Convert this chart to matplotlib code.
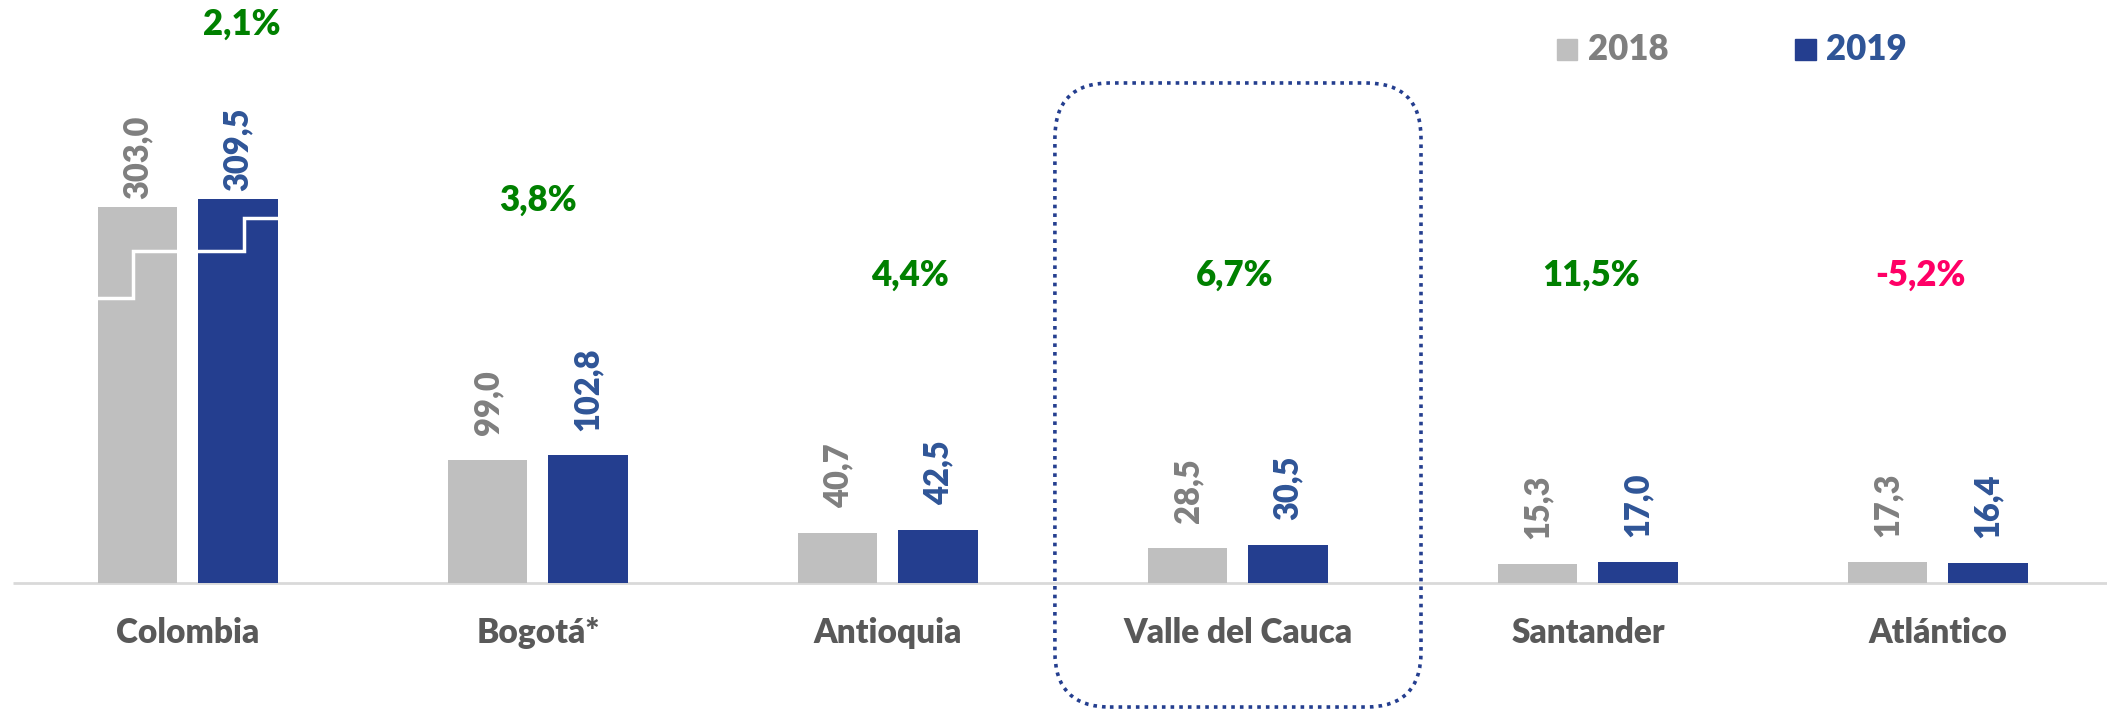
import numpy as np
import matplotlib
matplotlib.use('Agg')
import matplotlib.pyplot as plt
from matplotlib.patches import FancyBboxPatch, Rectangle

plt.rcParams['font.family'] = ['Lato', 'DejaVu Sans']

# data
regions = ['Colombia', 'Bogotá*', 'Antioquia', 'Valle del Cauca', 'Santander', 'Atlántico']
vals_2018 = [303.0, 99.0, 40.7, 28.5, 15.3, 17.3]
vals_2019 = [309.5, 102.8, 42.5, 30.5, 17.0, 16.4]
changes = ['2,1%', '3,8%', '4,4%', '6,7%', '11,5%', '-5,2%']

# layout of the growth labels (height in data units, x shift in group units)
change_y = [450, 308, 248, 248, 248, 248]
change_dx = [0.154, 0.0, 0.063, -0.01, 0.01, -0.05]
label_gap = [6, 20, 20, 20, 20, 20]

c_2018 = '#BFBFBF'
c_2019 = '#243E8F'
t_2018 = '#7F7F7F'
t_2019 = '#2F5597'
green = '#008000'
pink = '#FF0066'
wt = 'heavy'

W, H = 2107, 711
fig = plt.figure(figsize=(W / 100, H / 100), dpi=100)
ax = fig.add_axes([0, 0, 1, 1])
ax.set_xlim(-0.537, 5.483)
ax.set_ylim(-103, 469.4)
ax.axis('off')

x = np.arange(len(regions))
off = 0.143
bw = 0.226
bars1 = ax.bar(x - off, vals_2018, bw, color=c_2018, zorder=2)
bars2 = ax.bar(x + off, vals_2019, bw, color=c_2019, zorder=2)

# baseline
ax.plot([-0.5, 5.483], [0, 0], color='#D9D9D9', lw=2, zorder=1, solid_capstyle='butt')

# value labels
for i in range(len(regions)):
    ax.text(x[i] - off, vals_2018[i] + label_gap[i], f'{vals_2018[i]:.1f}'.replace('.', ','),
            rotation=90, ha='center', va='bottom', fontsize=23.5, fontweight=wt, color=t_2018)
    ax.text(x[i] + off, vals_2019[i] + label_gap[i], f'{vals_2019[i]:.1f}'.replace('.', ','),
            rotation=90, ha='center', va='bottom', fontsize=23.5, fontweight=wt, color=t_2019)
    ax.text(x[i], -40, regions[i], ha='center', va='center', fontsize=24,
            fontweight=wt, color='#595959')
    col = pink if changes[i].startswith('-') else green
    ax.text(x[i] + change_dx[i], change_y[i], changes[i], ha='center', va='center',
            fontsize=25, fontweight=wt, color=col)

# axis-break steps on the Colombia bars
def step(bar, f_lo, f_hi, frac):
    x0 = bar.get_x()
    x1 = x0 + bar.get_width()
    xm = x0 + frac * bar.get_width()
    h = bar.get_height()
    ax.plot([x0, xm, xm, x1], [f_lo * h, f_lo * h, f_hi * h, f_hi * h],
            color='white', lw=2.5, zorder=3, solid_joinstyle='miter')

step(bars1[0], 0.757, 0.882, 0.44)
step(bars2[0], 0.864, 0.950, 0.57)

# dotted rounded frame around Valle del Cauca (drawn in pixels)
fig.canvas.draw()
(px0, py0) = ax.transData.transform((x[3] - 0.523, -99.8))
(px1, py1) = ax.transData.transform((x[3] + 0.523, 402.6))
frame = FancyBboxPatch((px0, py0), px1 - px0, py1 - py0,
                       boxstyle='round,pad=0,rounding_size=55',
                       fill=False, edgecolor=c_2019, lw=2.6,
                       linestyle=(0, (1, 1.4)), transform=None, zorder=4)
fig.add_artist(frame)

# legend
fig.add_artist(Rectangle((1557 / W, 1 - 60 / H), 20 / W, 21 / H, color=c_2018,
                         transform=fig.transFigure))
fig.text(1588 / W, 1 - 49 / H, '2018', ha='left', va='center', fontsize=25,
         fontweight=wt, color=t_2018)
fig.add_artist(Rectangle((1795 / W, 1 - 60 / H), 21 / W, 21 / H, color=c_2019,
                         transform=fig.transFigure))
fig.text(1826 / W, 1 - 49 / H, '2019', ha='left', va='center', fontsize=25,
         fontweight=wt, color=t_2019)

plt.savefig('out.png', dpi=100)
